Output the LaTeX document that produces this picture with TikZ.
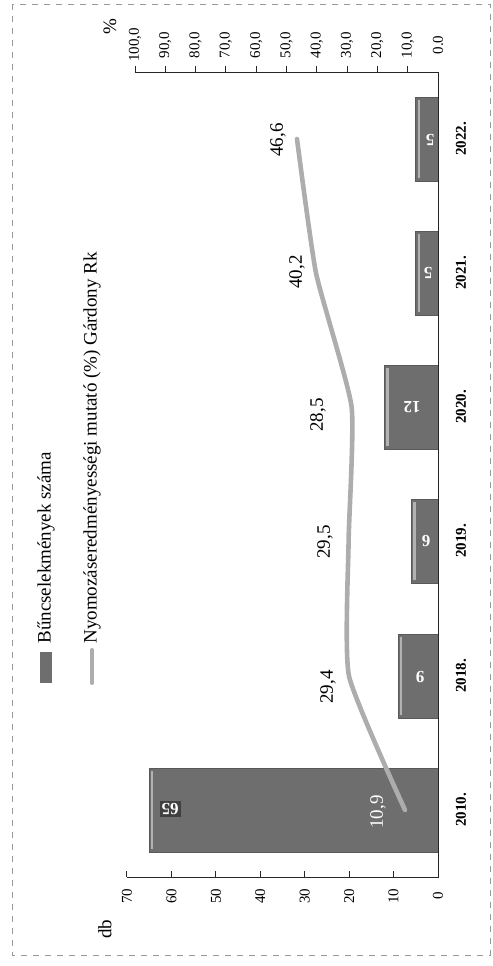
\documentclass[tikz,border=0pt]{standalone}
\usepackage{fontspec}
\setmainfont{Liberation Serif}
\usepackage{tikz}
\tikzstyle{bar_normal} = [fill=black!57, draw=black!65, line width=0.3pt]
\tikzstyle{bar_shine} = [draw=black!30, line width=1.2pt]
\tikzstyle{rate_normal} = [draw=black!32, line width=2.3pt, line cap=round, line join=round]
\tikzstyle{axis_normal} = [draw=black!85, line width=0.5pt]
\tikzstyle{tick_label} = [rotate=90, inner sep=1pt, font=\fontsize{7.5}{9}\selectfont]
\tikzstyle{year_label} = [rotate=90, inner sep=1pt, font=\bfseries\fontsize{7.5}{9}\selectfont]
\tikzstyle{rate_label} = [rotate=90, inner sep=1pt, font=\fontsize{9.5}{11}\selectfont]
\tikzstyle{bar_label} = [rotate=180, inner sep=1pt, text=white, font=\bfseries\fontsize{8.5}{10}\selectfont]
\tikzstyle{legend_label} = [rotate=90, anchor=west, inner sep=0pt, font=\fontsize{9.5}{11}\selectfont]

\begin{document}
\begin{tikzpicture}[x=0.5pt, y=-0.5pt]
\useasboundingbox (0,0) rectangle (493,966);
% frame of the scan
\draw[black!40, dashed, line width=0.4pt] (12,4) rectangle (490,955);

% bars (db)
\foreach \yr/\yc/\v in {2010/810/65, 2018/676/9, 2019/541/6, 2020/407/12, 2021/273/5, 2022/139/5} {
  \draw[bar_normal] (438-4.443*\v,\yc-42) rectangle (438,\yc+42);
  \draw[bar_shine] (441-4.443*\v,\yc-39) -- (441-4.443*\v,\yc+39);
  \node (year\yr) [year_label] at (461,\yc) {\yr.};
}
\node (val2010) [bar_label, fill=black!75] at (170,809) {65};
\node (val2018) [bar_label] at (420,677) {9};
\node (val2019) [bar_label] at (426,541) {6};
\node (val2020) [bar_label] at (412,407) {12};
\node (val2021) [bar_label] at (428,273) {5};
\node (val2022) [bar_label] at (430,140) {5};

% axes
\coordinate (O) at (438,877);
\coordinate (DbEnd) at (127,877);
\coordinate (PctO) at (438,72);
\coordinate (PctEnd) at (135,72);
\draw[axis_normal] (DbEnd) -- (O) -- (PctO) -- (PctEnd);
\foreach \v in {0,10,...,70} {
  \draw[axis_normal] (438-4.443*\v,877) -- (438-4.443*\v,871);
  \node (db\v) [tick_label] at (438-4.443*\v,896) {\v};
}
\foreach \p in {10,20,...,100} {
  \draw[axis_normal] (438-3.03*\p,72) -- (438-3.03*\p,66);
  \node (pct\p) [tick_label] at (438-3.03*\p,45) {\p,0};
}
\node (pct0) [tick_label] at (438,45) {0.0};
\node (dbtitle) [rate_label] at (105,929) {db};
\node (pcttitle) [rate_label] at (110,27) {\%};

% rate line (%)
\coordinate (p2010) at (405,810);
\coordinate (p2018) at (349,676);
\coordinate (p2019) at (348.6,541);
\coordinate (p2020) at (351.6,407);
\coordinate (p2021) at (316,273);
\coordinate (p2022) at (297,139);
\draw[rate_normal] plot[smooth, tension=0.3] coordinates {(p2010) (p2018) (p2019) (p2020) (p2021) (p2022)};
\node (r2010) [rate_label, text=white] at (378,812) {10,9};
\node (r2018) [rate_label] at (328,687) {29,4};
\node (r2019) [rate_label] at (325,542) {29,5};
\node (r2020) [rate_label] at (318,415) {28,5};
\node (r2021) [rate_label] at (297,272) {40,2};
\node (r2022) [rate_label] at (278,140) {46,6};

% legend
\node (legbar) [fill=black!57, minimum width=6pt, minimum height=15.5pt, inner sep=0pt] at (46,667.5) {};
\node (legbartext) [legend_label] at (46,644) {Bűncselekmények száma};
\coordinate (legrateA) at (92,683);
\coordinate (legrateB) at (92,650);
\draw[rate_normal, line width=2pt] (legrateA) -- (legrateB);
\node (legratetext) [legend_label] at (92,644) {Nyomozáseredményességi mutató (\%) Gárdony Rk};
\end{tikzpicture}
\end{document}
